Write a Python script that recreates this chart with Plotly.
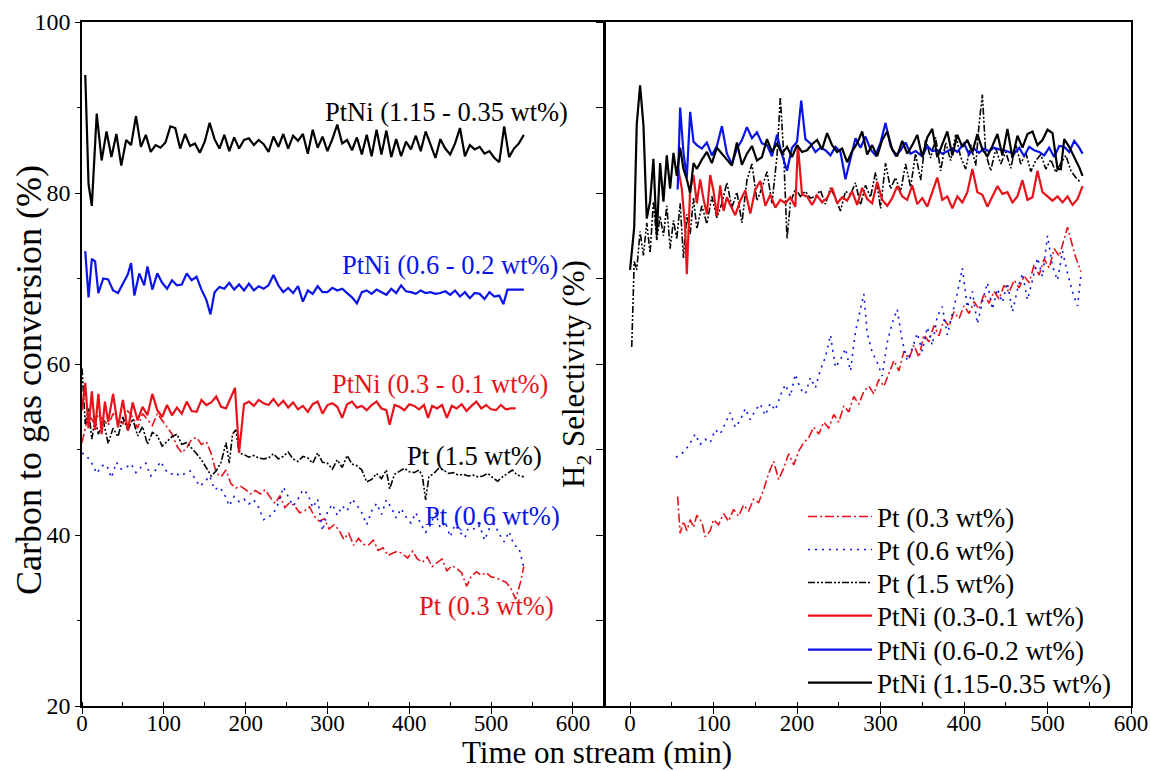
import plotly.graph_objects as go

# ---------------- Left panel: carbon to gas conversion ----------------
L_ptni115_t = [4,8,12,18,24,30,36,42,48,54,60,66,72,78,84,90,96,102,108,114,120,126,132,138,144,150,156,162,168,174,180,186,192,198,204,210,216,222,228,234,240,246,252,258,264,270,276,282,288,294,300,306,312,318,324,330,336,342,348,354,360,366,372,378,384,390,396,402,408,414,420,426,432,438,444,450,456,462,468,474,480,486,492,498,504,510,516,522,528,534,540]
L_ptni115_v = [93.8,81,78.5,89.3,83.8,87.2,84.2,86.9,83.2,86.2,85.6,89,85.4,86.8,84.8,85.6,85.3,85.9,87.8,87.6,85.2,86.9,85.5,85.8,84.7,86,88.2,86.3,85.2,86.8,84.9,86.5,85.2,86.2,86.4,85.6,86.2,85.7,84.8,86.6,85.4,86.9,85.2,86.7,86.1,86.9,84.6,87.4,85.3,86.6,84.9,86.3,88,85.8,86.2,85,86.5,84.5,86.8,84.3,87.4,84.5,87.3,84.2,86.3,84.3,86,85.1,86.7,84.9,87.2,85.6,84.1,86.3,85.2,84.5,85.8,87.6,84.3,85.6,85.1,85.4,84.6,84.9,84.1,83.6,87.8,84.2,85.2,85.8,86.8]

L_ptni06_t = [4,8,12,16,20,26,32,38,44,50,56,60,64,70,76,80,86,92,98,104,110,116,122,128,134,140,146,152,157,162,168,174,180,186,192,198,204,210,216,222,228,234,240,246,252,258,264,270,276,282,288,294,300,306,312,318,324,330,336,342,348,354,360,366,372,378,384,390,396,402,408,414,420,426,432,438,444,450,456,462,468,474,480,486,492,498,504,510,515,520,526,532,540]
L_ptni06_v = [73.2,67.8,72.3,72,68.3,70,69.9,68.6,68.3,69.5,70.5,71.8,68,70.6,69.2,71.4,68.7,70.6,69.5,68.8,69.8,69.2,69.3,70.6,69.8,70.2,68.7,67.5,65.8,68.4,69,68.8,69.5,68.7,69.3,68.6,69.4,68.6,69.1,68.8,69.2,70.4,69.2,68.4,68.9,68.3,69.1,67.3,68.6,68.2,69.1,68.4,68.4,68.9,68.6,68.8,68.3,67.8,67.1,68.4,68.6,68.2,68.7,68.4,68.1,68.8,68.3,69.2,68.5,68.4,68.2,68.6,68.3,68.4,68.2,68.3,68.5,68.1,68.6,67.9,68.4,67.7,68.3,68.2,67.6,68.4,67.9,68,67,68.7,68.7,68.7,68.7]

L_ptni03_t = [0,4,8,12,16,20,24,28,32,38,44,50,56,62,68,74,80,86,92,98,104,110,116,122,128,134,140,146,152,158,164,170,176,182,187,192,198,204,210,216,222,228,234,240,246,252,258,264,270,276,282,288,294,300,306,312,318,324,330,336,342,348,354,360,366,372,376,382,388,394,400,406,412,418,423,428,434,440,446,452,458,464,470,476,482,488,494,500,506,512,518,524,530]
L_ptni03_v = [54.6,57.8,52.5,56.8,52.3,56.5,51.8,55.6,53.2,56.5,52.6,55.8,52.2,55.5,53.4,55,54,56.5,54.6,53.8,55.2,54,54.9,54.2,55.6,54.5,54.4,55.8,55.2,55.5,56.2,55,54.8,56.2,57.2,49.6,55.3,55.6,55.1,55.8,55.4,55.2,55.9,55.1,55.7,54.9,55.5,54.7,55.1,54.4,55.3,55.6,54.2,55.2,55.4,55,53.7,55.3,55.6,54.9,55.1,54.6,55.2,55.6,54.8,54.6,52.9,55.2,55,54.6,55.3,55.1,54.7,55.2,53.7,55.1,54.8,55.2,53.7,55.1,54.8,55.3,54.5,55.1,55.6,54.8,55.2,54.7,54.6,55.2,54.7,54.8,54.8]

L_pt15_t = [0,4,8,12,16,20,26,32,38,44,50,56,62,68,74,80,86,92,98,104,110,116,122,128,134,140,146,152,158,164,170,176,180,184,188,192,198,204,210,216,222,228,234,240,246,252,258,264,270,276,282,288,294,300,306,312,318,324,330,336,342,348,354,360,366,372,376,382,388,394,400,406,412,416,420,424,430,436,442,448,454,460,466,472,478,484,490,496,502,508,514,520,526,532,540]
L_pt15_v = [59.5,53,54.8,51.2,53.6,51.8,53.4,50.7,52.5,51.5,53.8,52.2,53.6,51.6,52.7,50.6,52,51.6,50.4,51,51.5,51.8,50.6,50.8,50.2,49.5,48.8,47.8,46.9,47.5,48.5,50.8,48.4,51.8,52.3,49.6,49.4,49.1,49.3,49,48.9,49,49.5,48.9,49.2,49.7,48.9,48.6,49.2,49,48.4,49.6,48.5,48.4,47.7,48.8,47.9,49.3,48.3,48.1,47.6,46.2,46.5,47.2,46.6,47.6,45.4,47.1,47.4,47.8,47.4,47.3,47.6,46.9,44.1,46.8,47.2,47.8,47.6,47.2,47.3,47,47.1,46.9,47,46.8,46.9,47.2,46.7,46.3,46.8,47.2,47.6,47,46.8]

L_pt06_t = [0,6,12,18,24,30,36,42,48,54,60,66,72,78,84,90,96,102,108,114,120,126,132,138,144,150,156,162,168,174,180,186,192,198,204,210,216,222,228,234,240,246,252,258,264,270,276,282,288,294,300,306,312,318,324,330,336,342,348,354,360,366,372,378,384,390,396,402,408,414,420,426,432,438,444,450,456,462,468,474,480,486,492,498,504,510,516,522,528,534,540]
L_pt06_v = [49.6,49.2,48.4,47.2,48.1,48.2,46.7,48.5,47.7,47.9,48.3,47.3,47.9,48.4,46.9,47.6,48.6,47.6,47.1,47.3,46.9,47.2,47.5,46.6,45.7,46.2,46.9,45.3,45.6,44.8,43.4,44.5,43.9,44.2,43.6,44.1,43.2,41.8,42.1,42.5,43.7,45.6,44.5,43.4,44.2,45.3,44.8,43.2,44.2,40.5,42.7,43.6,42.3,43.4,42.8,44.2,43.5,42.6,41.2,42.8,43.7,42.4,44.1,43.2,42,43.1,42.1,41.4,42.6,41.3,40.3,41.2,42.6,40.8,41.5,39.8,41.2,40.3,39.7,41.4,40.6,41.1,39.4,40.8,41.3,40.1,39.2,40.4,38.8,38.5,36.2]

L_pt03_t = [0,4,8,14,20,26,32,38,44,50,56,62,68,74,80,86,92,98,104,110,116,122,128,134,140,146,152,158,164,170,176,182,188,194,200,206,212,218,224,230,236,242,248,254,260,266,272,278,284,290,296,302,308,314,320,326,332,338,344,350,356,362,368,374,380,386,392,398,404,410,416,422,428,434,440,446,452,458,464,470,476,482,488,494,500,506,512,518,524,530,536,540]
L_pt03_v = [50.8,52.4,54.2,53.2,54,53.5,52.8,54.2,53.4,53,54.5,53.8,52.5,54.2,53.5,52.8,54.2,53.4,52.6,51.8,50.4,49.6,50.2,51.2,51.4,50.6,50.9,49.5,47.3,46.8,47.6,46,45.5,45.7,45.3,44.8,45.2,44.8,45.3,44.4,43.7,44.6,43.2,43.8,43.4,42.6,42.8,43.3,42.2,41.6,41.9,40.7,41.2,40.6,39.5,40.2,38.8,39.6,38.9,38.8,39.4,38.2,38.5,37.6,37.9,38.1,37.8,37.3,38.1,37.2,36.8,37.4,36.3,36.8,37.2,35.8,36.4,36.1,35.6,34,35.2,35.7,35.3,35.6,35.1,35,34.7,34.5,33.8,32.5,34.5,36.3]

# ---------------- Right panel: H2 selectivity ----------------
R_ptni115_t = [0,5,8,12,16,20,24,28,32,36,40,44,48,52,56,60,64,68,72,76,80,86,92,98,104,110,116,122,128,134,140,146,152,158,164,170,176,182,188,194,200,206,212,218,224,230,236,242,248,254,260,266,272,278,284,290,296,302,308,314,320,326,332,338,344,350,356,362,368,374,380,386,392,398,404,410,416,422,428,434,440,446,452,458,464,470,476,482,488,494,500,506,512,516,520,526,532,538,542]
R_ptni115_v = [71,76,88,92.6,88,77,79,84,75,83.5,79,84.4,80.5,84.7,82,85.3,82.8,81.6,80,83.5,82.8,83.9,84.8,83.5,85.3,84.6,84,83.2,85.9,83.3,84.6,85.5,83.8,84.2,86.3,84.8,85.8,84.6,85.4,84.2,85.6,84.8,85,85.7,86.2,85.1,87,85.6,84.8,85.2,83.6,84.9,85.8,87.2,84.5,85.6,84.3,86.2,87.2,85.1,84.3,86.1,84.6,85.6,86.8,84.2,86.5,87.5,84.2,85.6,87.2,84.4,86.8,85.4,86.2,84.8,86.9,85.1,84.3,85.5,86.9,84.4,87.5,84.1,86.7,85.3,86.9,87.2,85.6,86.2,87.4,87,82.8,82.8,86.3,85.4,84.2,83,82]

R_ptni06_t = [57,60,64,68,72,76,80,86,92,98,104,110,116,122,128,134,140,146,152,158,164,170,176,182,188,194,200,205,210,216,222,228,234,240,246,252,258,264,270,276,282,288,294,300,306,312,318,324,330,336,342,350,356,362,368,374,380,386,392,400,406,412,418,424,430,436,442,448,454,460,466,472,478,484,490,496,502,508,514,520,526,532,538,542]
R_ptni06_v = [80.4,90,84.7,81.8,89.5,86,85.6,85.2,85.9,84.4,85.5,87.8,84.6,83.4,85.2,86.2,87.7,86.4,87.1,85.8,85.6,84.3,86.8,84.5,82.6,85.3,86,90.8,86.3,85.8,84.8,85.3,85,84.4,85.4,84.8,81.6,84.1,86.4,85.3,86.6,85.1,84.4,85.9,88.2,85.5,84.4,85,85.9,84.6,84.9,84.3,85.5,84.9,85,84.6,84.9,85.2,84.8,85.8,84.5,85.2,84.7,85.2,84.9,85.3,85.1,85,84.8,84.6,85.3,84.3,85.4,85,84.8,84.4,85.3,84.2,85.5,85.4,84.8,86.1,85.3,84.6]

R_ptni03_t = [57,62,66,68,72,76,80,84,88,92,96,100,104,108,112,116,120,126,132,138,144,150,156,162,168,174,180,186,192,198,201,206,212,218,224,230,236,242,248,254,260,266,272,278,284,290,296,302,308,314,320,326,332,338,344,350,356,362,368,374,380,386,392,398,404,410,416,422,428,434,440,446,452,458,464,470,476,482,488,494,500,506,512,518,524,530,536,542]
R_ptni03_v = [83.2,80.5,76,70.5,80.5,82.1,78.8,81.6,79.3,77.5,82.1,80.2,77.3,80.9,77.9,79.5,78.6,77.4,79.1,80.3,77.6,80.4,81.4,78.5,79.8,78.3,79.2,78.8,79.5,78.4,85.6,79.8,79.6,78.6,79.7,78.9,79.4,80.6,78.8,79.5,79.1,80.2,78.6,80.6,79.3,78.8,81.3,79.2,78.5,79.4,80.8,79.6,79.2,80.9,78.7,79.4,78.4,80.2,81.8,79.2,79.6,78.2,79.6,78.9,80.1,82.8,80.1,79.8,78.4,79.6,80.8,79.9,80.1,78.9,79.6,81.5,79.2,79.5,82.6,80.1,79.6,79.1,79.6,78.9,79.6,78.6,79.3,80.8]

R_pt15_t = [2,5,8,12,16,20,24,28,32,36,40,44,48,52,56,60,64,68,72,76,80,86,92,98,104,110,116,122,128,134,140,146,152,158,164,170,176,180,184,188,192,198,204,210,216,222,228,234,240,246,252,258,264,270,276,282,288,294,300,306,312,318,324,330,336,342,348,354,360,366,372,378,384,390,396,402,408,414,418,422,426,432,438,444,450,456,462,468,474,480,486,492,498,504,510,516,522,528,534,540]
R_pt15_v = [62,72,71,75.5,72.7,76.5,73,79,74.5,77.3,75,78.5,73.5,76.8,74.6,78.8,72.4,77.5,75.2,79.4,75.8,78.5,76.4,79.6,77.1,78.8,81.2,78.3,80.1,76.5,81.5,83.4,79.1,80.6,82.5,78.8,84.3,91.2,84.6,74.7,78.8,80.5,79.6,80.2,79.4,79.6,80.3,78.7,80.6,79.4,77.9,80.2,79.8,81.2,78.6,80.9,79.5,82.4,78.2,83.5,80.5,81.8,80.1,83.4,80.7,84.6,81.5,86.3,84.1,86.5,82.6,85.9,83.8,86.8,84.2,82.8,85.7,83.2,88,91.5,84.6,82.6,85.2,83.4,84.8,82.9,85.6,83.4,84.7,82.5,83.8,84.5,82.8,83.9,82.4,83.5,84.4,82.6,81.8,81.2]

R_pt06_t = [55,62,70,78,84,90,96,102,108,114,120,126,132,138,144,150,156,162,168,174,180,186,192,198,204,210,216,222,228,234,240,246,252,258,264,270,276,280,284,290,296,302,308,314,320,326,332,338,344,350,356,362,368,374,380,386,392,398,404,410,416,422,428,434,440,446,452,458,464,470,476,482,488,494,500,506,512,518,524,530,536,540]
R_pt06_v = [49.1,49.5,50.4,51.8,50.6,51.2,50.8,52.3,51.8,53.1,54.3,52.6,53.4,54.8,53.5,54.6,55.3,54,55.4,54.6,56.3,57.6,56.2,58.8,57.1,56.5,58.4,57.2,59.3,60.8,63.4,59.6,60.5,61.8,59.2,63.8,66.3,68.2,63.6,61.4,60.2,58.6,62.5,64.8,66.4,62.7,60.4,61.8,63.6,61.5,64.3,62.2,65.6,66.7,63.4,65.8,68.3,71.2,66.6,68.5,64.7,67.3,69.5,66.4,68.8,67.2,69.5,66.1,68.7,70.6,67.5,69.8,72.4,70.2,75,71.4,69.8,73.2,70.6,68.4,66.8,70.4]

R_pt03_t = [57,60,64,68,72,76,80,86,90,96,100,106,112,118,124,130,136,142,148,154,160,166,172,178,184,190,196,202,208,214,220,226,232,238,244,250,256,262,268,274,280,286,292,298,304,310,316,322,328,334,340,346,352,358,364,370,376,382,388,394,400,406,412,418,424,430,436,442,448,454,460,466,472,478,484,490,496,502,508,514,520,524,528,534,540]
R_pt03_v = [44.5,40.2,41.6,40.5,41.8,40.9,42.3,41.5,39.8,40.5,41.8,41.2,42.5,41.6,43,42.2,43.5,42.8,44.2,43.8,45.3,47.2,48.6,46.5,47.8,49.5,48.2,49.8,50.8,51.4,52.6,51.8,53.2,52.5,54.1,53.2,55.1,54.4,56.2,55.3,56.8,57.4,56.5,58.2,57.4,58.8,60.4,59.2,61.5,60.6,62.2,60.8,63.4,62.6,64.5,63.3,65.2,64.4,66.1,65.3,66.8,65.9,67.3,66.4,68.2,67.1,68.5,67.6,69.2,68.4,69.8,68.9,70.3,69.5,71.6,70.4,72.3,71.2,73.5,72.6,74.8,76,74.5,72.4,70.8]

x_ticks = [0, 100, 200, 300, 400, 500, 600]
y_ticks = [20, 40, 60, 80, 100]

RED = "#e8121a"
BLUE = "#0a14e6"
BLACK = "#000000"
FONT = "Liberation Serif"

style = {
    "pt03": dict(color=RED, width=1.6, dash="9px,3px,2px,3px"),
    "pt06": dict(color=BLUE, width=1.6, dash="2px,5px"),
    "pt15": dict(color=BLACK, width=1.6, dash="7px,2px,2px,2px,2px,2px"),
    "ptni03": dict(color=RED, width=2.2),
    "ptni06": dict(color=BLUE, width=2.2),
    "ptni115": dict(color=BLACK, width=2.2),
}

# Body margin is removed by the post script, so the figure fills the window exactly
W, H = 1150, 771
def px(xp):
    return xp / W
def py(yp):
    return 1 - yp / H

fig = go.Figure()

left = [
    (L_pt03_t, L_pt03_v, "pt03"), (L_pt06_t, L_pt06_v, "pt06"), (L_pt15_t, L_pt15_v, "pt15"),
    (L_ptni03_t, L_ptni03_v, "ptni03"), (L_ptni06_t, L_ptni06_v, "ptni06"), (L_ptni115_t, L_ptni115_v, "ptni115"),
]
for t, v, k in left:
    fig.add_trace(go.Scatter(x=t, y=v, mode="lines", line=style[k], showlegend=False,
                             xaxis="x", yaxis="y"))

names = {
    "pt03": "Pt (0.3 wt%)", "pt06": "Pt (0.6 wt%)", "pt15": "Pt (1.5 wt%)",
    "ptni03": "PtNi (0.3-0.1 wt%)", "ptni06": "PtNi (0.6-0.2 wt%)", "ptni115": "PtNi (1.15-0.35 wt%)",
}
right = [
    (R_pt03_t, R_pt03_v, "pt03"), (R_pt06_t, R_pt06_v, "pt06"), (R_pt15_t, R_pt15_v, "pt15"),
    (R_ptni03_t, R_ptni03_v, "ptni03"), (R_ptni06_t, R_ptni06_v, "ptni06"), (R_ptni115_t, R_ptni115_v, "ptni115"),
]
legend_ids = ["legend", "legend2", "legend3", "legend4", "legend5", "legend6"]
legend_rows = [517, 550, 583, 616, 650, 683]
for (t, v, k), lid in zip(right, legend_ids):
    fig.add_trace(go.Scatter(x=t, y=v, mode="lines", line=style[k], name=names[k],
                             xaxis="x2", yaxis="y2", legend=lid))

axis_common = dict(showline=True, linecolor="black", linewidth=1.5, mirror=True,
                   showgrid=False, zeroline=False, ticks="outside", tickcolor="black",
                   automargin=False)
xtickfont = dict(family=FONT, size=23, color="black")
ytickfont = dict(family=FONT, size=24, color="black")

layout_legends = {}
for lid, row in zip(legend_ids, legend_rows):
    layout_legends[lid] = dict(x=px(803), y=py(row), xanchor="left", yanchor="middle",
                               bgcolor="rgba(0,0,0,0)", borderwidth=0, itemwidth=64,
                               font=dict(family=FONT, size=27, color="black"))

fig.update_layout(
    width=W, height=H,
    margin=dict(l=0, r=0, t=0, b=0, autoexpand=False),
    paper_bgcolor="white", plot_bgcolor="white",
    font=dict(family=FONT, color="black"),
    xaxis=dict(domain=[px(82), px(604)], range=[0, 638], tickvals=x_ticks, ticklen=6,
               ticklabelstandoff=-10, tickfont=xtickfont, ticklabeloverflow="allow",
               minor=dict(dtick=50, tick0=0, ticks="inside", ticklen=4, tickcolor="black"),
               anchor="y", **axis_common),
    yaxis=dict(domain=[py(706), py(22)], range=[20, 100], tickvals=y_ticks, ticklen=5,
               tickfont=ytickfont, ticklabeloverflow="allow",
               minor=dict(dtick=10, tick0=0, ticks="outside", ticklen=3, tickcolor="black"),
               anchor="x", **axis_common),
    xaxis2=dict(domain=[px(605), px(1131)], range=[-30, 600], tickvals=x_ticks, ticklen=6,
                ticklabelstandoff=-10, tickfont=xtickfont, ticklabeloverflow="allow",
                minor=dict(dtick=50, tick0=0, ticks="inside", ticklen=4, tickcolor="black"),
                anchor="y2", **axis_common),
    yaxis2=dict(domain=[py(706), py(22)], range=[20, 100], dtick=10, tick0=0, ticklen=7,
                showticklabels=False, anchor="x2", **axis_common),
    **layout_legends,
)

ann_font = lambda c: dict(family=FONT, size=26.5, color=c)
labels = [
    ("PtNi (1.15 - 0.35 wt%)", 445, 89.5, BLACK),
    ("PtNi (0.6 - 0.2 wt%)", 450, 71.6, BLUE),
    ("PtNi (0.3 - 0.1 wt%)", 438, 57.7, RED),
    ("Pt (1.5 wt%)", 480, 49.2, BLACK),
    ("Pt (0.6 wt%)", 502, 42.2, BLUE),
    ("Pt (0.3 wt%)", 494, 31.7, RED),
]
for txt, xx, yy, c in labels:
    fig.add_annotation(text=txt, x=xx, y=yy, xref="x", yref="y", showarrow=False,
                       xanchor="center", yanchor="middle", font=ann_font(c))

# axis titles
fig.add_annotation(text="Carbon to gas conversion (%)", x=px(29), y=py(380), xref="paper", yref="paper",
                   showarrow=False, textangle=-90, xanchor="center", yanchor="middle",
                   font=dict(family=FONT, size=36, color="black"))
fig.add_annotation(text="H<sub>2</sub> Selectivity (%)", x=px(576), y=py(374), xref="paper", yref="paper",
                   showarrow=False, textangle=-90, xanchor="center", yanchor="middle",
                   font=dict(family=FONT, size=31, color="black"))
fig.add_annotation(text="Time on stream (min)", x=px(597), y=py(752), xref="paper", yref="paper",
                   showarrow=False, xanchor="center", yanchor="middle",
                   font=dict(family=FONT, size=31, color="black"))

fig.write_html("out.html",
               config={"displayModeBar": False},
               post_script="document.body.style.margin='0';document.body.style.overflow='hidden';")
